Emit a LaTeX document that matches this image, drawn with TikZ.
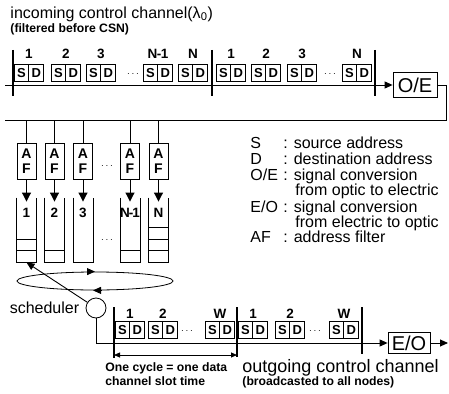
\documentclass[tikz,border=0pt]{standalone}
\usepackage{fontspec}
\setmainfont{Liberation Sans}
\usetikzlibrary{shapes.geometric,shapes.multipart,arrows.meta,positioning}

\begin{document}
\begin{tikzpicture}[x=1pt, y=-1pt, line width=0.9pt,
    slot/.style={rectangle split, rectangle split horizontal,
                 rectangle split parts=2, draw, line width=0.8pt,
                 inner xsep=2.5pt, inner ysep=0pt, minimum height=17pt,
                 font=\bfseries\fontsize{13}{13}\selectfont},
    num/.style={inner sep=0pt, font=\bfseries\fontsize{13.5}{13.5}\selectfont},
    filt/.style={draw, line width=0.8pt, minimum width=19pt, minimum height=36pt,
                 align=center, inner sep=0pt,
                 font=\bfseries\fontsize{14}{15}\selectfont},
    queue/.style={minimum width=19pt, minimum height=64pt, inner sep=0pt},
    conv/.style={draw, line width=0.8pt, minimum width=44pt, minimum height=25pt,
                 inner sep=0pt, font=\fontsize{20}{20}\selectfont},
    bar/.style={line width=1.4pt},
    arr/.style={-{Triangle[length=8pt,width=7pt]}},
    fat/.style={-{Triangle[length=9pt,width=9pt]}, line width=1pt},
    dbl/.style={{Triangle[length=6pt,width=5pt]}-{Triangle[length=6pt,width=5pt]}, line width=0.8pt},
    big/.style={inner sep=0pt, font=\fontsize{16}{18}\selectfont},
    legend/.style={inner sep=0pt, anchor=base west, font=\fontsize{16}{16}\selectfont},
    small/.style={inner sep=0pt, align=left, font=\bfseries\fontsize{12.2}{14}\selectfont},
    dots/.style={inner sep=0pt, font=\bfseries}
]
\useasboundingbox (0,0) rectangle (449,393);

% incoming control channel
\node[big, anchor=west] (intitle) at (10,14) {incoming control channel(λ\textsubscript{0})};
\node[small, anchor=west] (infilt) at (10,29) {(filtered before CSN)};

\node[slot] (a1)  at (29,73)  {S\nodepart{two}D};
\node[slot] (a2)  at (66,73)  {S\nodepart{two}D};
\node[slot] (a3)  at (101,73) {S\nodepart{two}D};
\node[slot] (aN1) at (158,73) {S\nodepart{two}D};
\node[slot] (aN)  at (193,73) {S\nodepart{two}D};
\node[slot] (b1)  at (231,73) {S\nodepart{two}D};
\node[slot] (b2)  at (266,73) {S\nodepart{two}D};
\node[slot] (b3)  at (302,73) {S\nodepart{two}D};
\node[slot] (bN)  at (357,73) {S\nodepart{two}D};
\node[dots] (adots) at (133,74) {$\cdots$};
\node[dots] (bdots) at (330,74) {$\cdots$};

\node[num, above=5pt of a1]  (la1)  {1};
\node[num, above=5pt of a2]  (la2)  {2};
\node[num, above=5pt of a3]  (la3)  {3};
\node[num, above=5pt of aN1] (laN1) {N\kern-0.5pt-\kern-0.5pt1};
\node[num, above=5pt of aN]  (laN)  {N};
\node[num, above=5pt of b1]  (lb1)  {1};
\node[num, above=5pt of b2]  (lb2)  {2};
\node[num, above=5pt of b3]  (lb3)  {3};
\node[num, above=5pt of bN]  (lbN)  {N};

\draw[bar] (13,50) -- (13,96);
\draw[bar] (212,50) -- (212,96);
\draw[bar] (375,50) -- (375,96);

\node[conv] (oe) at (415,85) {O/E};
\coordinate (inL) at (5,85);
\draw[arr] (inL) -- (oe);

% feedback bus to the address filters
\coordinate (busR) at (446,120);
\coordinate (busL) at (5,120);
\draw (oe.east) -| (busR) -- (busL);

\node[filt] (f1)  at (26.5,161) {A\\F};
\node[filt] (f2)  at (54.5,161) {A\\F};
\node[filt] (f3)  at (83,161)   {A\\F};
\node[filt] (fN1) at (130,161)  {A\\F};
\node[filt] (fN)  at (158.5,161) {A\\F};
\node[dots] (fdots) at (107,166) {$\cdots$};

\draw (f1.north)  -- (f1.north |- busL);
\draw (f2.north)  -- (f2.north |- busL);
\draw (f3.north)  -- (f3.north |- busL);
\draw (fN1.north) -- (fN1.north |- busL);
\draw (fN.north)  -- (fN.north |- busL);

% queues
\node[queue] (q1)  at (26.5,230) {};
\node[queue] (q2)  at (54.5,230) {};
\node[queue] (q3)  at (83,230)   {};
\node[queue] (qN1) at (130,230)  {};
\node[queue] (qN)  at (158.5,230) {};
\draw (q1.north west)  |- (q1.south east)  -- (q1.north east);
\draw (q2.north west)  |- (q2.south east)  -- (q2.north east);
\draw (q3.north west)  |- (q3.south east)  -- (q3.north east);
\draw (qN1.north west) |- (qN1.south east) -- (qN1.north east);
\draw (qN.north west)  |- (qN.south east)  -- (qN.north east);
\draw ([yshift=12pt]q1.south west)  -- ([yshift=12pt]q1.south east);
\draw ([yshift=23pt]q1.south west)  -- ([yshift=23pt]q1.south east);
\draw ([yshift=12pt]q2.south west)  -- ([yshift=12pt]q2.south east);
\draw ([yshift=12pt]qN1.south west) -- ([yshift=12pt]qN1.south east);
\draw ([yshift=12pt]qN.south west)  -- ([yshift=12pt]qN.south east);
\draw ([yshift=23pt]qN.south west)  -- ([yshift=23pt]qN.south east);
\draw ([yshift=35pt]qN.south west)  -- ([yshift=35pt]qN.south east);
\node[dots] (qdots) at (107,240) {$\cdots$};

\node[num] (n1)  at (26.5,213) {1};
\node[num] (n2)  at (54.5,213) {2};
\node[num] (n3)  at (83,213)   {3};
\node[num] (nN1) at (130,213)  {N\kern-1pt-\kern-1pt1};
\node[num] (nN)  at (158.5,213) {N};

\draw[fat] (f1)  -- ([yshift=-4pt]q1.north);
\draw[fat] (f2)  -- ([yshift=-4pt]q2.north);
\draw[fat] (f3)  -- ([yshift=-4pt]q3.north);
\draw[fat] (fN1) -- ([yshift=-4pt]qN1.north);
\draw[fat] (fN)  -- ([yshift=-4pt]qN.north);

% round robin ring and scheduler
\node[draw, ellipse, line width=0.8pt, minimum width=156pt, minimum height=18pt,
      inner sep=0pt] (ring) at (95,281) {};
\draw[arr] ([xshift=-8pt]ring.north) -- (ring.north);
\draw[arr] ([xshift=6pt]ring.south) -- ([xshift=-2pt]ring.south);

\node[draw, circle, line width=0.8pt, minimum size=20pt, inner sep=0pt] (sched) at (96,308) {};
\node[big, left=6pt of sched] (schedlbl) {scheduler};
\draw[arr] (sched) -- (q1.south);

% outgoing control channel
\node[conv, minimum width=42pt, minimum height=21pt] (eo) at (409,343) {E/O};
\draw[arr] (sched.south) |- (eo);
\coordinate (outR) at (448,343);
\draw[arr] (eo) -- (outR);

\node[slot] (c1) at (130,330) {S\nodepart{two}D};
\node[slot] (c2) at (163,330) {S\nodepart{two}D};
\node[slot] (cW) at (220,330) {S\nodepart{two}D};
\node[slot] (d1) at (253,330) {S\nodepart{two}D};
\node[slot] (d2) at (290,330) {S\nodepart{two}D};
\node[slot] (dW) at (344,330) {S\nodepart{two}D};
\node[dots] (cdots) at (187,331) {$\cdots$};
\node[dots] (ddots) at (315,331) {$\cdots$};

\node[num, above=2pt of c1] (lc1) {1};
\node[num, above=2pt of c2] (lc2) {2};
\node[num, above=2pt of cW] (lcW) {W};
\node[num, above=2pt of d1] (ld1) {1};
\node[num, above=2pt of d2] (ld2) {2};
\node[num, above=2pt of dW] (ldW) {W};

\draw[bar] (114,307) -- (114,358);
\draw[bar] (237,307) -- (237,357);
\draw[bar] (362,307) -- (362,354);

\coordinate (cyL) at (114,355);
\coordinate (cyR) at (237,355);
\draw[dbl] (cyL) -- (cyR);

\node[small, anchor=west] (cycle) at (105,374) {One cycle = one data\\channel slot time};
\node[big, anchor=west, font=\fontsize{18}{18}\selectfont] (outtitle) at (242,368) {outgoing control channel};
\node[small, anchor=west] (outsub) at (242,382) {(broadcasted to all nodes)};

% legend
\node[legend] (lgS)   at (250,148) {\makebox[33pt][l]{S}: source address};
\node[legend] (lgD)   at (250,164) {\makebox[33pt][l]{D}: destination address};
\node[legend] (lgOE)  at (250,180) {\makebox[33pt][l]{O/E}: signal conversion};
\node[legend] (lgOE2) at (295,195) {from optic to electric};
\node[legend] (lgEO)  at (250,212) {\makebox[33pt][l]{E/O}: signal conversion};
\node[legend] (lgEO2) at (295,227) {from electric to optic};
\node[legend] (lgAF)  at (250,242) {\makebox[33pt][l]{AF}: address filter};
\end{tikzpicture}
\end{document}
